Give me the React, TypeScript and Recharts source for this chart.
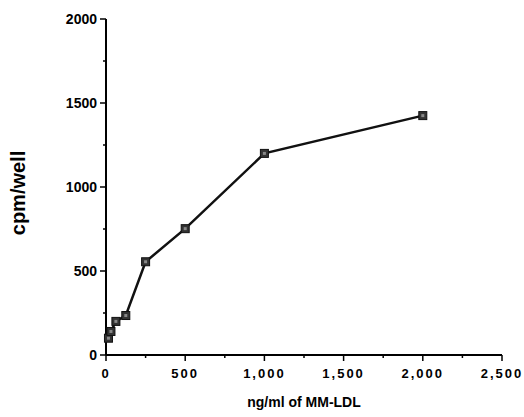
import { LineChart, Line, XAxis, YAxis } from 'recharts';

const doses = [15.6, 31.2, 62.5, 125, 250, 500, 1000, 2000];
const cpm = [100, 140, 200, 235, 555, 752, 1200, 1425];
const xTicks = [0, 250, 500, 750, 1000, 1250, 1500, 1750, 2000, 2250, 2500];
const yTicks = [0, 250, 500, 750, 1000, 1250, 1500, 1750, 2000];
const xLabels: Record<number, string> = {
  0: '0',
  500: '500',
  1000: '1,000',
  1500: '1,500',
  2000: '2,000',
  2500: '2,500',
};

const data = doses.map((d, i) => ({ dose: d, cpm: cpm[i] }));

const FONT = '"Liberation Sans", Arial, sans-serif';

const YTick = ({ x, y, payload }: any) => {
  const major = payload.value % 500 === 0;
  return (
    <g>
      <line x1={x} x2={x - (major ? 6 : 3)} y1={y} y2={y} stroke="#000" strokeWidth={1.5} />
      {major && (
        <text x={x - 9} y={y} dy={5} textAnchor="end" fontFamily={FONT} fontWeight="bold" fontSize={14} fill="#000">
          {payload.value}
        </text>
      )}
    </g>
  );
};

const XTick = ({ x, y, payload }: any) => {
  const major = payload.value % 500 === 0;
  return (
    <g>
      <line x1={x} x2={x} y1={y} y2={y + (major ? 6 : 3)} stroke="#000" strokeWidth={1.5} />
      {major && (
        <text x={x} y={y + 23} textAnchor="middle" fontFamily={FONT} fontWeight="bold" fontSize={13} letterSpacing={2} fill="#000">
          {xLabels[payload.value]}
        </text>
      )}
    </g>
  );
};

const SquareDot = ({ cx, cy }: any) => (
  <g>
    <rect x={cx - 4} y={cy - 4} width={8} height={8} fill="#333" stroke="#111" strokeWidth={1} />
    <rect x={cx - 1.5} y={cy - 1.5} width={3} height={3} fill="#888" />
  </g>
);

const YLabel = () => (
  <text x={25} y={193} transform="rotate(-90 25 193)" textAnchor="middle" fontFamily={FONT} fontWeight="bold" fontSize={20} fill="#000">
    cpm/well
  </text>
);

export default function App() {
  return (
    <div style={{ position: 'absolute', left: 0, top: 0, background: '#fff' }}>
      <LineChart width={524} height={417} data={data} margin={{ top: 19, right: 22, left: 0, bottom: 0 }}>
        <XAxis
          dataKey="dose"
          type="number"
          domain={[0, 2500]}
          ticks={xTicks}
          interval={0}
          tickSize={0}
          tickMargin={0}
          tickLine={false}
          tick={<XTick />}
          height={62}
          axisLine={{ stroke: '#000', strokeWidth: 2 }}
          label={{ value: 'ng/ml of MM-LDL', position: 'insideBottom', offset: 10, style: { fontFamily: FONT, fontWeight: 'bold', fontSize: 14, fill: '#000' } }}
        />
        <YAxis
          type="number"
          domain={[0, 2000]}
          ticks={yTicks}
          interval={0}
          tickSize={0}
          tickMargin={0}
          tickLine={false}
          tick={<YTick />}
          width={106}
          axisLine={{ stroke: '#000', strokeWidth: 2 }}
          label={{ content: () => <YLabel /> }}
        />
        <Line
          dataKey="cpm"
          stroke="#111"
          strokeWidth={2.5}
          dot={<SquareDot />}
          isAnimationActive={false}
        />
      </LineChart>
    </div>
  );
}
